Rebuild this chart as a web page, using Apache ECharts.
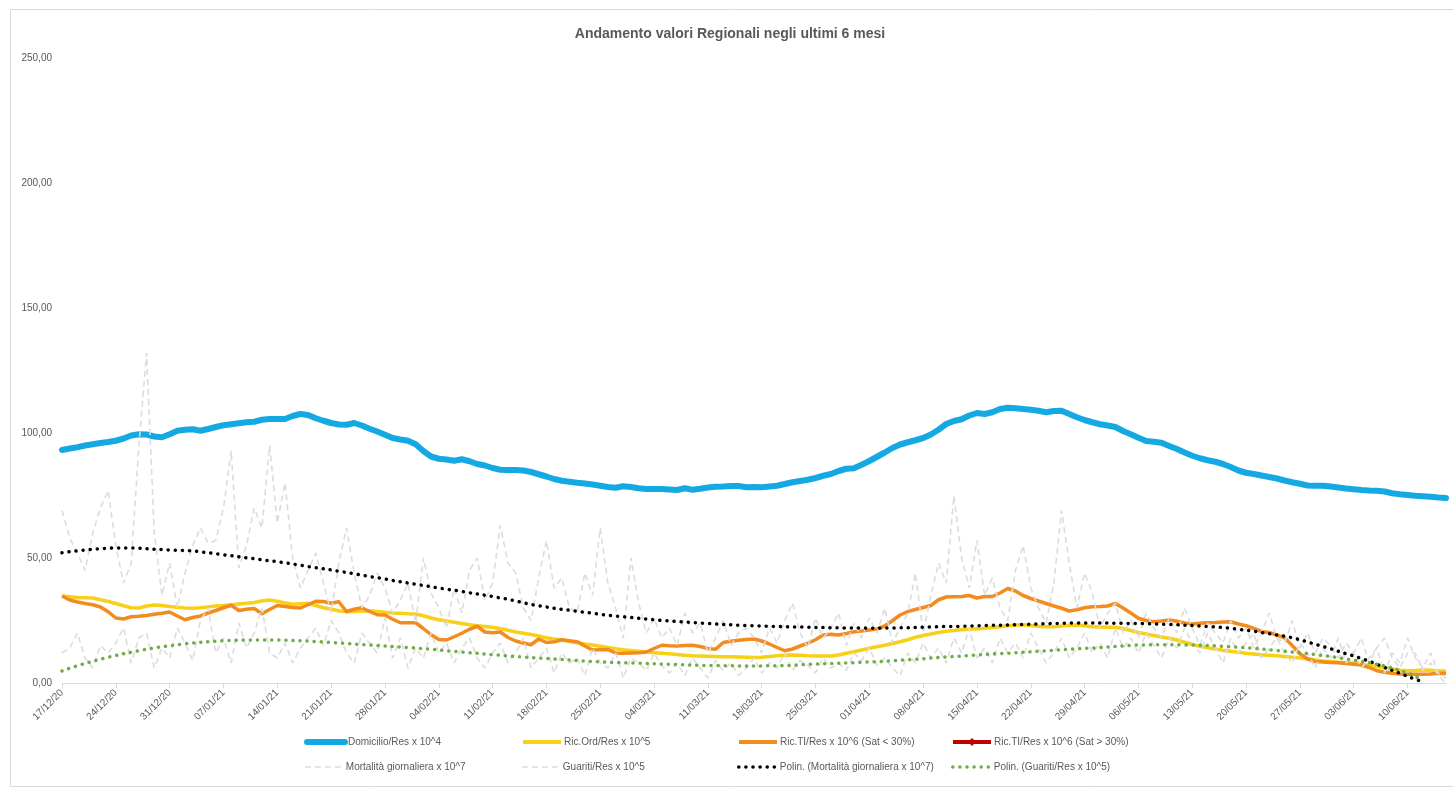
<!DOCTYPE html>
<html>
<head>
<meta charset="utf-8">
<script src="https://cdn.jsdelivr.net/npm/echarts@6/dist/echarts.min.js"></script>
<style>
html,body{margin:0;padding:0;background:#fff;}
#c{width:1453px;height:791px;}
</style>
</head>
<body>
<div id="c"></div>
<script>
// ---- DATA ----
const startDate = [2020, 12, 17];
const nDays = 181;
const categories = (function () {
  const out = [];
  const d = new Date(Date.UTC(startDate[0], startDate[1] - 1, startDate[2]));
  for (let i = 0; i < nDays; i++) {
    const dd = String(d.getUTCDate()).padStart(2, '0');
    const mm = String(d.getUTCMonth() + 1).padStart(2, '0');
    const yy = String(d.getUTCFullYear()).slice(2);
    out.push(dd + '/' + mm + '/' + yy);
    d.setUTCDate(d.getUTCDate() + 1);
  }
  return out;
})();

const seriesNames = [
  'Domicilio/Res x 10^4',
  'Ric.Ord/Res x 10^5',
  'Ric.TI/Res x 10^6 (Sat < 30%)',
  'Ric.TI/Res x 10^6 (Sat > 30%)',
  'Mortalità giornaliera x 10^7',
  'Guariti/Res x 10^5',
  'Polin. (Mortalità giornaliera x 10^7)',
  'Polin. (Guariti/Res x 10^5)'
];

const domicilio = [93.2,93.8,94.3,95.0,95.5,96.0,96.4,96.9,97.8,99.0,
 99.5,99.4,98.6,98.3,99.5,100.9,101.3,101.5,100.9,101.6,
 102.4,103.1,103.5,103.9,104.3,104.5,105.3,105.6,105.6,105.6,
 106.8,107.6,107.2,105.9,104.9,104.0,103.4,103.3,104.0,103.0,
 101.7,100.6,99.3,98.0,97.4,96.9,95.5,92.8,90.6,89.7,
 89.4,88.9,89.5,88.7,87.6,87.0,86.0,85.3,85.2,85.2,
 85.0,84.4,83.5,82.6,81.6,80.9,80.5,80.1,79.8,79.4,
 78.9,78.4,78.1,78.7,78.4,77.9,77.6,77.6,77.6,77.4,
 77.2,77.9,77.3,77.7,78.2,78.5,78.6,78.8,78.8,78.3,
 78.4,78.3,78.6,78.9,79.6,80.3,80.8,81.3,82.0,82.9,
 83.6,84.8,85.7,85.9,87.3,88.8,90.5,92.2,94.0,95.4,
 96.3,97.1,98.0,99.4,101.3,103.6,104.8,105.5,107.0,108.0,
 107.6,108.3,109.6,110.1,109.9,109.6,109.3,108.9,108.3,108.8,
 108.9,107.6,106.3,105.2,104.3,103.5,103.0,102.4,100.8,99.5,
 98.1,96.8,96.5,96.1,94.8,93.6,92.2,90.9,89.9,89.1,
 88.5,87.6,86.4,85.0,84.1,83.6,83.0,82.4,81.8,81.0,
 80.3,79.7,79.0,78.9,78.9,78.6,78.2,77.8,77.5,77.2,
 77.0,76.9,76.6,75.9,75.5,75.2,74.9,74.7,74.5,74.2,
 74.0];

const ricOrd = [34.8,34.5,34.2,34.1,34.0,33.3,32.6,31.8,30.9,30.1,
 30.0,30.8,31.2,31.0,30.6,30.3,30.0,29.9,30.1,30.4,
 30.8,31.0,31.3,31.6,31.9,32.2,32.8,33.2,32.7,32.0,
 31.5,31.7,31.9,31.0,30.1,29.5,28.9,28.5,28.6,28.8,
 28.9,28.6,28.3,28.0,27.9,27.7,27.6,26.9,26.0,25.3,
 24.8,24.3,23.8,23.3,22.9,22.6,22.3,21.7,21.1,20.4,
 19.9,19.4,18.8,18.1,17.6,17.2,16.6,16.1,15.6,15.2,
 14.7,14.2,13.7,13.3,13.0,12.7,12.4,12.1,11.9,11.7,
 11.4,11.1,10.9,10.8,10.7,10.6,10.5,10.5,10.4,10.3,
 10.2,10.3,10.6,10.9,11.1,11.2,11.1,10.9,10.8,10.8,
 10.8,11.2,11.9,12.5,13.2,13.9,14.5,15.1,15.8,16.5,
 17.3,18.3,19.0,19.6,20.2,20.7,21.0,21.3,21.5,21.7,
 21.9,22.2,22.5,22.9,23.2,23.3,23.0,22.7,22.5,22.5,
 22.8,23.1,23.2,22.9,22.5,22.4,22.3,22.3,21.8,21.0,
 20.2,19.6,19.0,18.4,17.9,17.2,16.3,15.4,14.7,14.1,
 13.6,13.1,12.7,12.3,11.9,11.6,11.3,11.1,10.9,10.6,
 10.3,10.0,9.7,9.2,8.8,8.6,8.3,8.1,7.9,7.5,
 7.0,6.5,6.0,5.6,5.1,4.9,5.0,5.2,5.1,4.9,
 4.8];

const ricTIlow = [34.8,33.2,32.4,31.8,31.3,30.4,28.5,26.0,25.6,26.5,
 26.7,27.0,27.5,27.9,28.4,26.8,25.3,26.2,26.8,28.0,
 29.0,30.1,31.1,29.0,29.5,29.8,27.7,29.4,31.0,30.6,
 30.2,30.0,31.3,32.7,32.6,31.9,32.5,28.6,29.5,30.1,
 28.6,27.3,27.2,25.5,24.1,24.1,24.1,21.8,19.3,17.4,
 17.2,18.5,19.9,21.5,22.7,20.4,20.1,20.4,18.2,16.8,
 16.0,15.3,17.6,16.2,16.5,17.3,16.9,16.5,14.8,13.2,
 13.3,13.4,12.0,11.9,12.0,12.1,12.4,13.8,15.1,14.9,
 14.8,15.0,15.1,14.6,13.8,13.5,16.2,16.7,17.1,17.4,
 17.6,16.8,15.6,14.2,12.9,13.6,14.8,15.9,17.3,19.2,
 19.5,19.2,19.8,20.5,20.8,21.2,21.6,22.8,24.9,27.2,
 28.6,29.4,30.2,31.0,33.3,34.4,34.5,34.6,35.0,34.0,
 34.6,34.6,36.0,37.8,36.8,35.0,33.8,32.8,31.8,30.8,
 29.9,28.8,29.3,30.1,30.5,30.6,30.8,31.8,30.0,28.0,
 25.9,25.0,24.5,24.8,25.2,24.7,24.0,23.6,23.9,24.1,
 24.2,24.4,24.5,23.6,22.9,21.8,20.6,20.2,19.2,18.1,
 15.0,11.7,9.6,8.6,8.4,8.2,8.1,7.8,7.5,7.2,
 6.2,4.9,4.3,3.9,3.6,3.5,3.5,3.5,3.6,3.9,
 3.8];

const ricTIhigh = [];

const mortalita = [69,58,52,45,60,70,77,55,40,48,
 95,132,60,35,48,30,44,55,62,56,
 57,70,93,46,55,70,62,95,64,80,
 50,38,45,52,40,28,48,62,44,30,
 35,44,38,28,33,40,24,50,36,30,
 22,38,28,45,50,33,40,63,48,44,
 30,25,42,57,38,42,30,28,44,35,
 62,40,30,18,50,32,20,26,18,22,
 15,28,20,24,12,18,25,15,20,22,
 18,12,22,16,25,32,20,14,26,18,
 22,28,15,24,18,26,20,30,16,22,
 28,44,20,35,48,40,75,50,38,57,
 35,42,30,25,45,55,38,30,24,40,
 69,48,30,44,36,22,28,32,20,25,
 18,28,22,18,26,20,30,22,15,24,
 20,16,25,18,22,14,20,28,18,16,
 25,14,20,12,18,15,10,16,12,18,
 8,14,18,10,6,12,12,5,8,3,
 0];

const guariti = [12,14,20,10,6,15,12,16,22,8,
 18,20,6,14,10,22,16,9,25,30,
 12,18,8,24,14,20,30,12,10,16,
 8,14,18,22,15,25,20,12,8,20,
 16,12,26,10,18,6,14,10,20,12,
 16,8,14,18,10,6,12,16,8,12,
 18,6,10,14,4,12,8,10,3,14,
 8,6,12,2,10,8,5,12,7,4,
 8,3,10,6,2,9,5,8,3,6,
 10,4,8,6,12,5,9,7,4,10,
 6,8,5,12,9,14,7,10,6,3,
 12,8,16,10,14,8,18,12,22,10,
 14,8,18,12,16,10,20,14,8,12,
 18,10,14,20,12,16,10,22,14,18,
 12,20,15,10,18,14,22,16,12,20,
 14,8,18,12,16,20,10,14,18,12,
 8,16,12,6,14,10,18,8,12,6,
 10,14,4,12,8,18,10,6,12,4,
 2];

const polinMortalita = [52.1,52.5,52.9,53.2,53.5,53.7,53.9,54.0,54.0,54.0,
 53.9,53.7,53.5,53.4,53.2,53.1,53.0,52.8,52.5,52.1,
 51.7,51.3,50.9,50.5,50.1,49.7,49.3,48.9,48.5,48.1,
 47.6,47.1,46.6,46.1,45.7,45.2,44.7,44.2,43.7,43.1,
 42.6,42.1,41.6,41.0,40.5,40.0,39.5,39.0,38.5,38.0,
 37.5,37.1,36.6,36.1,35.6,35.1,34.6,34.0,33.5,32.8,
 32.1,31.4,30.9,30.4,29.9,29.5,29.1,28.7,28.3,27.9,
 27.5,27.1,26.8,26.5,26.2,25.9,25.6,25.3,25.0,24.8,
 24.6,24.4,24.2,24.0,23.8,23.6,23.4,23.3,23.1,23.0,
 22.9,22.8,22.7,22.6,22.5,22.4,22.4,22.3,22.2,22.2,
 22.1,22.1,22.0,22.0,22.0,21.9,21.9,22.0,22.0,22.1,
 22.1,22.2,22.3,22.4,22.5,22.6,22.6,22.7,22.8,22.9,
 23.0,23.1,23.1,23.2,23.3,23.4,23.5,23.6,23.7,23.8,
 23.9,24.0,24.0,24.0,24.0,24.0,24.0,23.9,23.9,23.8,
 23.8,23.7,23.6,23.5,23.4,23.3,23.1,23.0,22.8,22.6,
 22.4,22.2,21.9,21.5,21.1,20.7,20.2,19.7,19.2,18.7,
 18.1,17.3,16.4,15.5,14.6,13.7,12.7,11.7,10.8,9.8,
 8.7,7.5,6.3,5.1,3.9,2.7,1.5,0.4,null,null,
 null];

const polinGuariti = [4.8,5.9,6.9,7.8,8.7,9.5,10.3,11.0,11.7,12.3,
 12.9,13.5,14.0,14.5,14.9,15.3,15.7,16.0,16.3,16.5,
 16.7,16.9,17.0,17.1,17.2,17.2,17.2,17.2,17.2,17.1,
 17.0,16.9,16.8,16.6,16.4,16.2,16.0,15.8,15.6,15.4,
 15.2,15.0,14.8,14.6,14.4,14.2,14.0,13.7,13.5,13.2,
 12.9,12.7,12.4,12.1,11.9,11.6,11.3,11.1,10.8,10.6,
 10.4,10.2,10.0,9.8,9.6,9.4,9.2,9.0,8.8,8.6,
 8.5,8.3,8.2,8.1,8.0,7.9,7.8,7.7,7.6,7.5,
 7.4,7.3,7.2,7.1,7.0,7.0,6.9,6.9,6.8,6.8,
 6.8,6.8,6.9,6.9,7.0,7.1,7.3,7.5,7.6,7.7,
 7.8,7.9,8.0,8.1,8.3,8.4,8.5,8.7,8.9,9.1,
 9.3,9.5,9.7,10.0,10.2,10.4,10.6,10.8,11.0,11.2,
 11.4,11.6,11.8,11.9,12.1,12.3,12.5,12.7,12.9,13.1,
 13.3,13.5,13.7,13.9,14.0,14.2,14.4,14.6,14.8,15.0,
 15.2,15.2,15.3,15.3,15.3,15.3,15.2,15.2,15.1,15.0,
 14.9,14.7,14.5,14.3,14.1,13.9,13.6,13.3,13.0,12.7,
 12.4,12.1,11.7,11.4,11.0,10.6,10.1,9.6,9.1,8.6,
 8.1,7.5,6.8,6.0,5.0,3.9,2.6,1.2,null,null,
 null];

const yTicks = [0, 50, 100, 150, 200, 250];

// ---- CHART ----
const FONT = "'Liberation Sans', 'DejaVu Sans', sans-serif";
const TXT = '#595959';
const chart = echarts.init(document.getElementById('c'), null, {renderer: 'canvas'});

const legendCols = [304, 521, 737, 951];
const legendRows = [737, 762];
const legendLineWidths = [6, 4, 4, 4, 1.6, 1.6, 3.5, 3.5];
function mkLegend(name, i) {
  return {
    data: [name],
    left: legendCols[i % 4],
    top: legendRows[Math.floor(i / 4)],
    itemWidth: 38,
    itemHeight: 10,
    itemGap: 0,
    selectedMode: false,
    padding: 0,
    itemStyle: i === 3 ? {} : {opacity: 0},
    lineStyle: {width: legendLineWidths[i]},
    textStyle: {color: TXT, fontSize: 10, fontFamily: FONT, padding: [0, 0, 0, -2]}
  };
}

const dotted = [0.1, 7];
const option = {
  backgroundColor: '#ffffff',
  animation: false,
  title: {
    text: 'Andamento valori Regionali negli ultimi 6 mesi',
    left: 725,
    textAlign: 'center',
    top: 22,
    textStyle: {color: TXT, fontSize: 14, fontWeight: 'bold', fontFamily: FONT}
  },
  graphic: [{
    type: 'rect', silent: true, z: -10,
    shape: {x: 10.5, y: 9.5, width: 1450, height: 777},
    style: {fill: 'none', stroke: '#d9d9d9', lineWidth: 1}
  }],
  legend: seriesNames.map(mkLegend),
  grid: {left: 62, right: 7, top: 58, bottom: 108, containLabel: false},
  xAxis: {
    type: 'category',
    data: categories,
    boundaryGap: false,
    axisLine: {lineStyle: {color: '#d9d9d9', width: 1}},
    axisTick: {show: true, interval: 6, length: 5, lineStyle: {color: '#d9d9d9'}},
    axisLabel: {interval: 6, rotate: 45, fontSize: 10, color: TXT, fontFamily: FONT, margin: 8},
    splitLine: {show: false}
  },
  yAxis: {
    type: 'value',
    min: yTicks[0],
    max: yTicks[yTicks.length - 1],
    interval: 50,
    axisLine: {show: false},
    axisTick: {show: false},
    splitLine: {show: false},
    axisLabel: {
      fontSize: 10, color: TXT, fontFamily: FONT, margin: 10,
      formatter: v => v.toFixed(2).replace('.', ',')
    }
  },
  series: [
    {name: seriesNames[0], type: 'line', data: domicilio, symbol: 'none',
     lineStyle: {color: '#15a9e3', width: 6, cap: 'round', join: 'round'}, itemStyle: {color: '#15a9e3'}},
    {name: seriesNames[1], type: 'line', data: ricOrd, symbol: 'none',
     lineStyle: {color: '#f7d017', width: 3.5, join: 'round'}, itemStyle: {color: '#f7d017'}},
    {name: seriesNames[2], type: 'line', data: ricTIlow, symbol: 'none',
     lineStyle: {color: '#f28c1e', width: 3.5, join: 'round'}, itemStyle: {color: '#f28c1e'}},
    {name: seriesNames[3], type: 'line', data: ricTIhigh, symbol: 'diamond', symbolSize: 9, showSymbol: true,
     lineStyle: {color: '#c00000', width: 3.5}, itemStyle: {color: '#c00000'}},
    {name: seriesNames[4], type: 'line', data: mortalita, symbol: 'none',
     lineStyle: {color: '#dcdcdc', width: 1.6, type: [6, 4]}, itemStyle: {color: '#dcdcdc'}},
    {name: seriesNames[5], type: 'line', data: guariti, symbol: 'none',
     lineStyle: {color: '#dcdcdc', width: 1.6, type: [6, 4]}, itemStyle: {color: '#dcdcdc'}},
    {name: seriesNames[6], type: 'line', data: polinMortalita, symbol: 'none', smooth: true,
     lineStyle: {color: '#000000', width: 3.5, type: dotted, cap: 'round'}, itemStyle: {color: '#000000'}},
    {name: seriesNames[7], type: 'line', data: polinGuariti, symbol: 'none', smooth: true,
     lineStyle: {color: '#70ad47', width: 3.5, type: dotted, cap: 'round'}, itemStyle: {color: '#70ad47'}}
  ]
};
chart.setOption(option);
</script>
</body>
</html>
